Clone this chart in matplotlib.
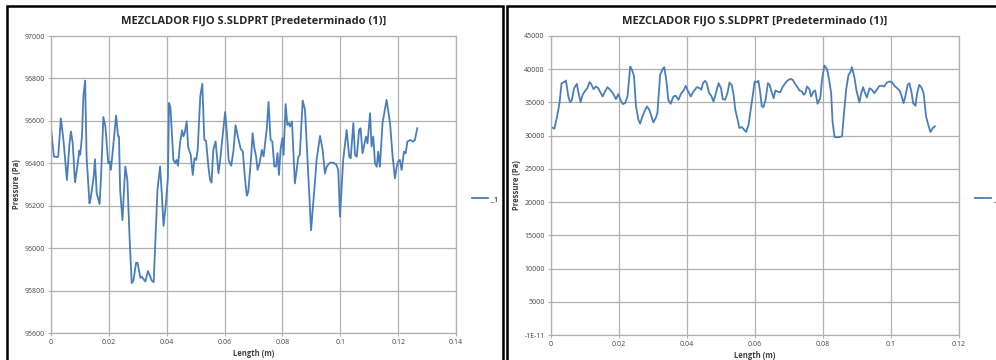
import matplotlib.pyplot as plt
import matplotlib as mpl
from matplotlib.patches import Rectangle
from matplotlib.ticker import FixedLocator, FixedFormatter

mpl.rcParams['font.family'] = ['Open Sans', 'DejaVu Sans']

# left chart: pressure along the length (Pa)
len_1 = [0.0000, 0.0010, 0.0022, 0.0025, 0.0034, 0.0043, 0.0055, 0.0064, 0.0069, 0.0075,
         0.0083, 0.0091, 0.0098, 0.0101, 0.0107, 0.0112, 0.0118, 0.0123, 0.0133, 0.0137,
         0.0147, 0.0152, 0.0158, 0.0168, 0.0173, 0.0181, 0.0188, 0.0198, 0.0203, 0.0207,
         0.0215, 0.0225, 0.0232, 0.0235, 0.0239, 0.0247, 0.0253, 0.0257, 0.0264, 0.0271,
         0.0279, 0.0285, 0.0294, 0.0299, 0.0309, 0.0314, 0.0319, 0.0326, 0.0335, 0.0342,
         0.0348, 0.0355, 0.0368, 0.0377, 0.0383, 0.0389, 0.0396, 0.0404, 0.0408, 0.0413,
         0.0423, 0.0429, 0.0434, 0.0439, 0.0446, 0.0453, 0.0458, 0.0462, 0.0469, 0.0474,
         0.0479, 0.0483, 0.0490, 0.0496, 0.0502, 0.0507, 0.0516, 0.0523, 0.0530, 0.0536,
         0.0544, 0.0550, 0.0555, 0.0561, 0.0569, 0.0579, 0.0585, 0.0593, 0.0602, 0.0608,
         0.0614, 0.0623, 0.0631, 0.0638, 0.0647, 0.0656, 0.0663, 0.0671, 0.0677, 0.0682,
         0.0691, 0.0697, 0.0703, 0.0709, 0.0714, 0.0721, 0.0729, 0.0735, 0.0741, 0.0746,
         0.0752, 0.0759, 0.0765, 0.0772, 0.0778, 0.0783, 0.0788, 0.0794, 0.0800, 0.0804,
         0.0811, 0.0817, 0.0822, 0.0826, 0.0833, 0.0843, 0.0855, 0.0860, 0.0870, 0.0878,
         0.0899, 0.0912, 0.0918, 0.0930, 0.0939, 0.0947, 0.0953, 0.0964, 0.0976, 0.0987,
         0.0993, 0.0999, 0.1010, 0.1022, 0.1031, 0.1036, 0.1045, 0.1051, 0.1057, 0.1065,
         0.1070, 0.1077, 0.1082, 0.1089, 0.1094, 0.1103, 0.1108, 0.1114, 0.1120, 0.1126,
         0.1131, 0.1137, 0.1146, 0.1160, 0.1172, 0.1181, 0.1189, 0.1195, 0.1200, 0.1206,
         0.1212, 0.1220, 0.1226, 0.1232, 0.1241, 0.1252, 0.1258, 0.1266]
pres_1 = [96566, 96432, 96429, 96432, 96612, 96511, 96321, 96495, 96550, 96495,
          96310, 96384, 96460, 96440, 96527, 96716, 96790, 96432, 96211, 96234,
          96329, 96419, 96258, 96208, 96337, 96618, 96574, 96400, 96408, 96369,
          96479, 96625, 96527, 96527, 96274, 96132, 96290, 96385, 96321, 96069,
          95835, 95847, 95931, 95931, 95860, 95866, 95855, 95843, 95892, 95871,
          95847, 95840, 96274, 96385, 96258, 96105, 96195, 96329, 96685, 96661,
          96416, 96400, 96416, 96388, 96495, 96555, 96527, 96542, 96598, 96479,
          96456, 96440, 96345, 96424, 96416, 96463, 96716, 96775, 96511, 96506,
          96385, 96321, 96309, 96463, 96503, 96353, 96416, 96527, 96642, 96542,
          96416, 96388, 96463, 96579, 96519, 96467, 96456, 96321, 96247, 96266,
          96416, 96542, 96471, 96432, 96369, 96400, 96463, 96432, 96503, 96566,
          96689, 96511, 96503, 96385, 96385, 96448, 96345, 96471, 96519, 96440,
          96679, 96581, 96590, 96573, 96597, 96305, 96431, 96439, 96696, 96652,
          96085, 96305, 96416, 96529, 96463, 96352, 96384, 96403, 96403, 96392,
          96368, 96148, 96416, 96557, 96431, 96424, 96589, 96439, 96431, 96557,
          96565, 96447, 96479, 96526, 96494, 96636, 96479, 96526, 96400, 96384,
          96455, 96384, 96589, 96699, 96589, 96431, 96329, 96384, 96408, 96416,
          96368, 96455, 96447, 96502, 96510, 96502, 96510, 96565]

# right chart
len_2 = [0.0002, 0.0010, 0.0017, 0.0025, 0.0031, 0.0038, 0.0044, 0.0051, 0.0056, 0.0061,
         0.0068, 0.0076, 0.0081, 0.0087, 0.0093, 0.0101, 0.0107, 0.0113, 0.0118, 0.0125,
         0.0132, 0.0139, 0.0144, 0.0152, 0.0159, 0.0166, 0.0174, 0.0182, 0.0186, 0.0191,
         0.0198, 0.0203, 0.0211, 0.0218, 0.0225, 0.0233, 0.0239, 0.0244, 0.0250, 0.0257,
         0.0262, 0.0269, 0.0275, 0.0282, 0.0289, 0.0294, 0.0301, 0.0308, 0.0313, 0.0321,
         0.0328, 0.0333, 0.0339, 0.0345, 0.0352, 0.0360, 0.0367, 0.0375, 0.0382, 0.0390,
         0.0396, 0.0402, 0.0411, 0.0419, 0.0429, 0.0437, 0.0442, 0.0447, 0.0453, 0.0458,
         0.0465, 0.0471, 0.0478, 0.0485, 0.0493, 0.0500, 0.0505, 0.0512, 0.0519, 0.0525,
         0.0532, 0.0537, 0.0542, 0.0549, 0.0554, 0.0561, 0.0568, 0.0574, 0.0581, 0.0586,
         0.0593, 0.0599, 0.0606, 0.0610, 0.0615, 0.0620, 0.0625, 0.0631, 0.0638, 0.0643,
         0.0650, 0.0655, 0.0660, 0.0666, 0.0674, 0.0681, 0.0689, 0.0696, 0.0704, 0.0711,
         0.0718, 0.0725, 0.0731, 0.0738, 0.0743, 0.0748, 0.0753, 0.0760, 0.0765, 0.0772,
         0.0777, 0.0784, 0.0792, 0.0797, 0.0804, 0.0812, 0.0818, 0.0824, 0.0828, 0.0834,
         0.0841, 0.0849, 0.0856, 0.0861, 0.0868, 0.0875, 0.0880, 0.0885, 0.0892, 0.0898,
         0.0907, 0.0912, 0.0918, 0.0922, 0.0929, 0.0937, 0.0944, 0.0951, 0.0959, 0.0966,
         0.0974, 0.0980, 0.0988, 0.0996, 0.1003, 0.1010, 0.1018, 0.1025, 0.1030, 0.1037,
         0.1042, 0.1049, 0.1054, 0.1060, 0.1065, 0.1072, 0.1077, 0.1083, 0.1089, 0.1096,
         0.1103, 0.1109, 0.1116, 0.1123, 0.1129]
pres_2 = [31250, 31050, 32650, 34900, 37900, 38050, 38300, 35900, 35050, 35300,
          37150, 37800, 36400, 35050, 36150, 36800, 37150, 38050, 37800, 37000,
          37400, 37150, 36650, 35900, 36650, 37300, 36900, 36400, 36000, 35500,
          36250, 35550, 34750, 34900, 35900, 40400, 39800, 39000, 34400, 32400,
          31800, 32900, 33650, 34400, 33900, 33150, 32000, 32650, 33400, 39150,
          40000, 40300, 38400, 35400, 34800, 35900, 36000, 35400, 36300, 36800,
          37500, 36800, 35900, 36650, 37300, 37150, 36900, 37900, 38250, 37900,
          36400, 36050, 35150, 36400, 37900, 37150, 35500, 35400, 36400, 38000,
          37550, 36150, 33900, 32400, 31150, 31300, 30900, 30550, 31650, 33400,
          35900, 38150, 38050, 38250, 36650, 34400, 34300, 35400, 37900, 37650,
          36400, 35650, 36800, 36650, 36500, 37300, 37900, 38300, 38550, 38400,
          37800, 37300, 36800, 36650, 36150, 36400, 37400, 37000, 35900, 36650,
          36800, 34800, 35650, 38400, 40550, 40000, 38400, 36400, 32150, 29800,
          29750, 29800, 29900, 32900, 36900, 39150, 39500, 40300, 38900, 36900,
          35000, 36300, 37300, 36650, 35750, 37150, 36900, 36400, 37000, 37500,
          37500, 37400, 38000, 38150, 38050, 37500, 37150, 36800, 36150, 34900,
          35900, 37650, 37900, 36650, 34900, 34500, 36400, 37650, 37300, 36400,
          32900, 31750, 30550, 31150, 31400]

title = 'MEZCLADOR FIJO S.SLDPRT [Predeterminado (1)]'
x_ticks_1 = [0, 0.02, 0.04, 0.06, 0.08, 0.1, 0.12, 0.14]
x_labels_1 = ['0', '0.02', '0.04', '0.06', '0.08', '0.1', '0.12', '0.14']
y_ticks_1 = [95600, 95800, 96000, 96200, 96400, 96600, 96800, 97000]
x_ticks_2 = [0, 0.02, 0.04, 0.06, 0.08, 0.1, 0.12]
x_labels_2 = ['0', '0.02', '0.04', '0.06', '0.08', '0.1', '0.12']
y_ticks_2 = [0, 5000, 10000, 15000, 20000, 25000, 30000, 35000, 40000, 45000]
y_labels_2 = ['-1E-11', '5000', '10000', '15000', '20000', '25000', '30000', '35000', '40000', '45000']

W, H = 996, 360
fig = plt.figure(figsize=(W / 100, H / 100), dpi=100)

# the two black chart frames
fig.add_artist(Rectangle((7 / W, -0.05), 496 / W, 1.05 - 6 / H, transform=fig.transFigure,
                         fill=False, ec='black', lw=1.8))
fig.add_artist(Rectangle((507 / W, -0.05), 0.6, 1.05 - 6 / H, transform=fig.transFigure,
                         fill=False, ec='black', lw=1.8))

blue = '#4a7ebb'
grid_c = '#b0b0b0'


def style(ax, xt, xl, yt, yl, xmax, ylim):
    ax.set_xlim(0, xmax)
    ax.set_ylim(*ylim)
    ax.xaxis.set_major_locator(FixedLocator(xt))
    ax.xaxis.set_major_formatter(FixedFormatter(xl))
    ax.yaxis.set_major_locator(FixedLocator(yt))
    ax.yaxis.set_major_formatter(FixedFormatter(yl))
    ax.grid(True, color=grid_c, lw=0.9)
    ax.set_axisbelow(True)
    for s in ax.spines.values():
        s.set_color(grid_c)
        s.set_linewidth(0.9)
    ax.tick_params(length=2.5, width=0.8, color=grid_c, labelsize=5, labelcolor='#404040', pad=2)
    ax.set_title(title, fontsize=8, fontweight='bold', color='#262626', pad=9)
    ax.set_xlabel('Length (m)', fontsize=5.5, fontweight='bold', color='#404040', labelpad=2)
    ax.set_ylabel('Pressure (Pa)', fontsize=5.5, fontweight='bold', color='#404040')


ax1 = fig.add_axes([51 / W, 1 - 333 / H, 405 / W, 297 / H])
l1, = ax1.plot(len_1, pres_1, color=blue, lw=1.3)
style(ax1, x_ticks_1, x_labels_1, y_ticks_1, [str(v) for v in y_ticks_1], 0.14, (95600, 97000))
ax1.yaxis.set_label_coords(-0.074, 0.5)
leg1 = ax1.legend([l1], ['x1'], loc='center left', bbox_to_anchor=(1.04, 0.45), frameon=False,
                  fontsize=6, handlelength=1.9, handletextpad=0.2, borderpad=0, borderaxespad=0)
leg1.get_texts()[0].set_text('_1')

ax2 = fig.add_axes([551 / W, 1 - 335 / H, 408 / W, 299 / H])
l2, = ax2.plot(len_2, pres_2, color=blue, lw=1.3)
style(ax2, x_ticks_2, x_labels_2, y_ticks_2, y_labels_2, 0.12, (0, 45000))
ax2.yaxis.set_label_coords(-0.0735, 0.5)
leg2 = ax2.legend([l2], ['x1'], loc='center left', bbox_to_anchor=(1.04, 0.455), frameon=False,
                  fontsize=6, handlelength=1.9, handletextpad=0.2, borderpad=0, borderaxespad=0)
leg2.get_texts()[0].set_text('_1')

fig.savefig('out.png', dpi=100)
